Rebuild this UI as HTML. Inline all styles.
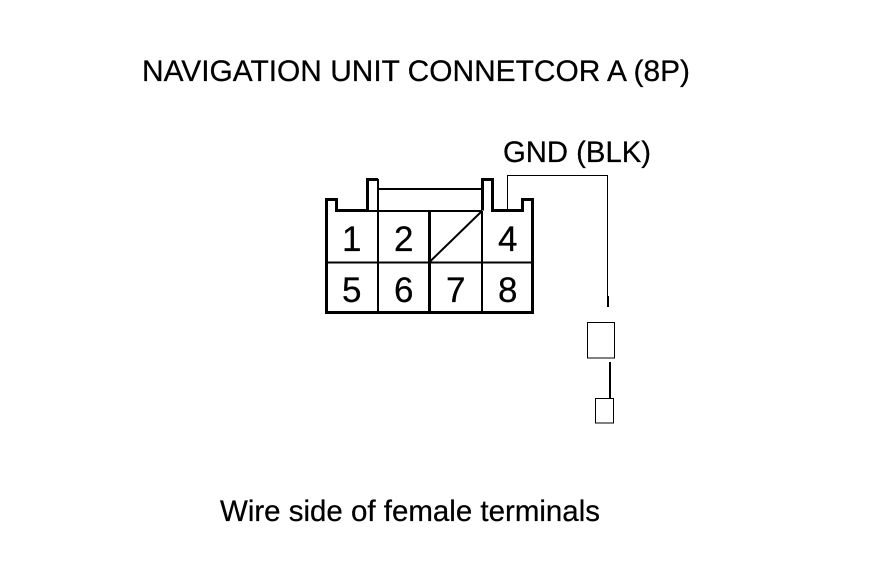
<!DOCTYPE html>
<html><head><meta charset="utf-8"><style>
html,body{margin:0;padding:0;background:#fff;width:880px;height:580px;overflow:hidden}
svg{display:block}
text{font-family:"Liberation Sans",sans-serif;fill:#000;stroke:#000;stroke-width:.25}
</style></head><body>
<svg width="880" height="580" viewBox="0 0 880 580" xmlns="http://www.w3.org/2000/svg">
<rect width="880" height="580" fill="#fff"/>
<g fill="none" stroke="#000" shape-rendering="crispEdges">
<path stroke-width="3" d="M326.500 313V199.500H336.500V210.500H367.500V179.500H378M482.500 210.500V179.500H492.500V210.500H522.500V199.500H532.500V313M325 312.500H534"/>
<path stroke-width="2" d="M378 179V313M378 189H482M337 211H482M326 262.500H533M482 211V313"/>
<path stroke-width="3" d="M429.500 211V313"/>
<path stroke-width="1" d="M507.500 211V175.500H607.500V307"/>
<path stroke-width="2" d="M608 296V307"/>
<path stroke-width="1" d="M587.500 322.500H614.500V358H587.500Z"/>
<path stroke-width="2" d="M610 362V399"/>
<path stroke-width="1" d="M595.500 398.500H613.500V423H595.500Z"/>
</g>
<path d="M429.500 262L482 211" stroke="#000" stroke-width="2" fill="none"/>
<text x="142" y="81" font-size="29.500" textLength="548" lengthAdjust="spacingAndGlyphs">NAVIGATION UNIT CONNETCOR A (8P)</text>
<text x="503" y="162" font-size="29.500" textLength="148" lengthAdjust="spacingAndGlyphs">GND (BLK)</text>
<text x="220" y="521" font-size="29.500" textLength="380" lengthAdjust="spacingAndGlyphs">Wire side of female terminals</text>
<g font-size="35" style="stroke-width:.7">
<text x="342" y="251">1</text>
<text x="394" y="251">2</text>
<text x="498" y="251">4</text>
<text x="342" y="302">5</text>
<text x="394" y="302">6</text>
<text x="446" y="302">7</text>
<text x="498" y="302">8</text>
</g>
</svg>
</body></html>
